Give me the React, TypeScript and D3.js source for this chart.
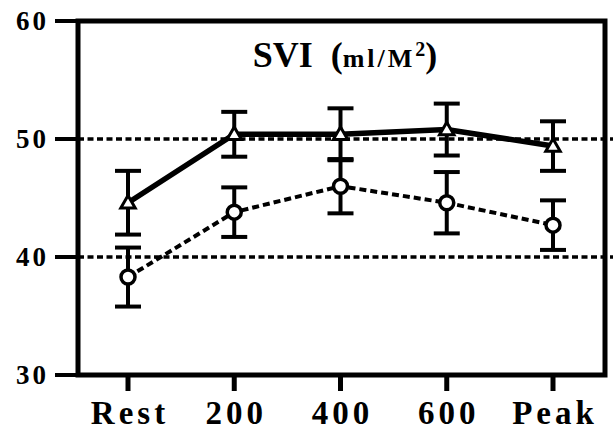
import React from "react";
import * as d3 from "d3";

const categories = ["Rest", "200", "400", "600", "Peak"];
const triMean = [44.6, 50.4, 50.4, 50.8, 49.4];
const triErr = [2.7, 1.9, 2.2, 2.2, 2.1];
const circMean = [38.3, 43.8, 46.0, 44.6, 42.7];
const circErr = [2.5, 2.1, 2.3, 2.6, 2.1];
const yTicks = [30, 40, 50, 60];
const gridValues = [40, 50];

const W = 613;
const H = 432;
const left = 78;
const right = 605;
const top = 21;
const bottom = 375;

const FONT = "'Liberation Serif', 'Times New Roman', serif";

export default function App() {
  const x = d3.scalePoint<string>().domain(categories).range([128, 553]);
  const y = d3.scaleLinear().domain([30, 60]).range([bottom, top]);
  const line = d3
    .line<number>()
    .x((_, i) => x(categories[i]) as number)
    .y((d) => y(d));
  const tri = d3.symbol().type(d3.symbolTriangle).size(90)() as string;

  const errBars = (means: number[], errs: number[], key: string) =>
    means.map((m, i) => {
      const cx = x(categories[i]) as number;
      const y1 = y(m + errs[i]);
      const y2 = y(m - errs[i]);
      return (
        <g key={key + i} stroke="#000" strokeWidth={4}>
          <line x1={cx} x2={cx} y1={y1} y2={y2} />
          <line x1={cx - 13} x2={cx + 13} y1={y1} y2={y1} />
          <line x1={cx - 13} x2={cx + 13} y1={y2} y2={y2} />
        </g>
      );
    });

  return (
    <svg
      width={W}
      height={H}
      style={{ position: "absolute", left: 0, top: 0, background: "#fff" }}
    >
      <rect x={0} y={0} width={W} height={H} fill="#fff" />
      {/* grid lines */}
      {gridValues.map((v) => (
        <line
          key={"g" + v}
          x1={left}
          x2={W}
          y1={y(v)}
          y2={y(v)}
          stroke="#000"
          strokeWidth={3.5}
          strokeDasharray="6 3.5"
        />
      ))}
      {/* frame */}
      <rect
        x={left}
        y={top}
        width={right - left}
        height={bottom - top}
        fill="none"
        stroke="#000"
        strokeWidth={5}
      />
      {/* y ticks and labels */}
      {yTicks.map((t) => (
        <g key={"y" + t}>
          <line x1={55} x2={left} y1={y(t)} y2={y(t)} stroke="#000" strokeWidth={4} />
          <text
            x={49}
            y={y(t) + 9}
            textAnchor="end"
            fontFamily={FONT}
            fontWeight="bold"
            fontSize={27}
            letterSpacing={3}
          >
            {t}
          </text>
        </g>
      ))}
      {/* x ticks and labels */}
      {categories.map((c) => (
        <g key={"x" + c}>
          <line
            x1={x(c) as number}
            x2={x(c) as number}
            y1={bottom}
            y2={391}
            stroke="#000"
            strokeWidth={5}
          />
          <text
            x={(x(c) as number) + 2}
            y={424}
            textAnchor="middle"
            fontFamily={FONT}
            fontWeight="bold"
            fontSize={33}
            letterSpacing={4}
          >
            {c}
          </text>
        </g>
      ))}
      {/* title */}
      <text
        x={345}
        y={67}
        textAnchor="middle"
        fontFamily={FONT}
        fontWeight="bold"
        fontSize={36}
      >
        SVI
        <tspan fontSize={36} dx={18}>(</tspan>
        <tspan fontSize={26} letterSpacing={3}>ml/M</tspan>
        <tspan fontSize={20} dy={-11}>2</tspan>
        <tspan fontSize={36} dy={11}>)</tspan>
      </text>
      {/* error bars */}
      {errBars(triMean, triErr, "te")}
      {errBars(circMean, circErr, "ce")}
      {/* lines */}
      <path d={line(circMean) as string} fill="none" stroke="#000" strokeWidth={4} strokeDasharray="7 4" />
      <path d={line(triMean) as string} fill="none" stroke="#000" strokeWidth={5.5} />
      {/* markers */}
      {circMean.map((m, i) => (
        <circle
          key={"c" + i}
          cx={x(categories[i]) as number}
          cy={y(m)}
          r={7}
          fill="#fff"
          stroke="#000"
          strokeWidth={3.5}
        />
      ))}
      {triMean.map((m, i) => (
        <path
          key={"t" + i}
          d={tri}
          transform={`translate(${x(categories[i])},${y(m) + 1})`}
          fill="#fff"
          stroke="#000"
          strokeWidth={3}
        />
      ))}
    </svg>
  );
}
